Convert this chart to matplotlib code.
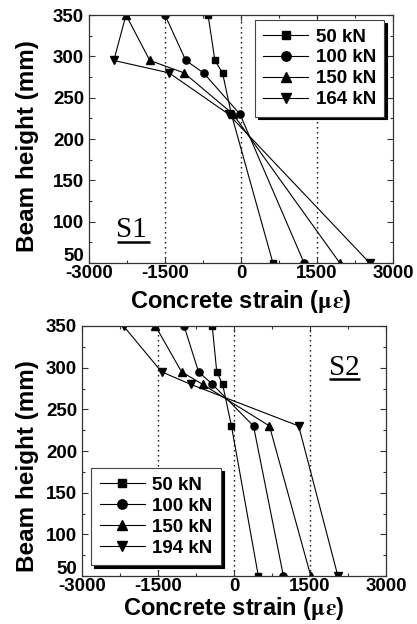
import matplotlib
matplotlib.use("Agg")
import matplotlib.pyplot as plt
from matplotlib.ticker import MultipleLocator
from matplotlib.transforms import ScaledTranslation

plt.rcParams['font.family'] = ['Liberation Sans', 'DejaVu Sans']
plt.rcParams['font.weight'] = 'bold'
plt.rcParams['mathtext.fontset'] = 'stix'
plt.rcParams['axes.unicode_minus'] = False

# ---- data ----
heights = [350, 295, 280, 230, 50]

s1_labels = ['50 kN', '100 kN', '150 kN', '164 kN']
s1_50 = [-650, -515, -365, -190, 630]
s1_100 = [-1500, -1090, -740, -20, 1245]
s1_150 = [-2270, -1800, -1125, -155, 1950]
s1_164 = [-2270, -2510, -1420, -245, 2540]

s2_labels = ['50 kN', '100 kN', '150 kN', '194 kN']
s2_50 = [-430, -340, -225, -50, 480]
s2_100 = [-985, -700, -425, 385, 975]
s2_150 = [-1550, -1035, -620, 700, 1515]
s2_194 = [-2180, -1430, -855, 1277, 2050]

x_ticks = [-3000, -1500, 0, 1500, 3000]
y_ticks = [50, 100, 150, 200, 250, 300, 350]

markers = ['s', 'o', '^', 'v']
msizes = [4.8, 5.2, 5.8, 5.8]

fig = plt.figure(figsize=(4.17, 6.24), dpi=100)
ax1 = fig.add_axes([89/417, 1-263/624, 304/417, 248/624])
ax2 = fig.add_axes([82/417, 1-576/624, 304/417, 250/624])


def style(ax):
    ax.set_xlim(-3000, 3000)
    ax.set_ylim(50, 350)
    ax.set_xticks(x_ticks)
    ax.set_yticks(y_ticks)
    ax.xaxis.set_minor_locator(MultipleLocator(750))
    ax.yaxis.set_minor_locator(MultipleLocator(25))
    ax.tick_params(which='both', direction='in', top=True, right=True,
                   width=0.8, color='#333333')
    ax.tick_params(which='major', length=4)
    ax.tick_params(which='minor', length=2.2)
    ax.tick_params(axis='x', pad=1.5, labelsize=13.5)
    ax.tick_params(axis='y', pad=3.5, labelsize=13.5)
    for lab in ax.get_xticklabels() + ax.get_yticklabels():
        lab.set_fontweight('bold')
    for sp in ax.spines.values():
        sp.set_linewidth(0.9)
        sp.set_color('#333333')
    for xv in x_ticks[1:-1]:
        ax.axvline(xv, color='black', lw=1.0, ls=(0, (1, 2.6)), zorder=0)
    ax.set_xlabel(r'Concrete strain ($\mathrm{\mu\varepsilon}$)', fontsize=17,
                  fontweight='bold')
    ax.set_ylabel('Beam height (mm)', fontsize=17.5, fontweight='bold')
    # lift the lowest y tick label a little, as in the reference
    lab0 = ax.yaxis.get_major_ticks()[0].label1
    lab0.set_transform(lab0.get_transform() +
                       ScaledTranslation(0, 6/72, fig.dpi_scale_trans))


def draw(ax, series, labels):
    for vals, lab, m, ms in zip(series, labels, markers, msizes):
        ax.plot(vals, heights, color='black', lw=0.8, marker=m, ms=ms,
                mfc='black', mec='black', label=lab)


style(ax1)
style(ax2)
draw(ax1, [s1_50, s1_100, s1_150, s1_164], s1_labels)
draw(ax2, [s2_50, s2_100, s2_150, s2_194], s2_labels)

ax1.xaxis.set_label_coords(0.5, -0.1)
ax1.yaxis.set_label_coords(-0.164, 0.47)
ax2.xaxis.set_label_coords(0.5, -0.076)
ax2.yaxis.set_label_coords(-0.141, 0.44)

leg_kw = dict(fontsize=13.5, frameon=True, fancybox=False, markerscale=1.3,
              handlelength=2.4, handletextpad=0.4, labelspacing=0.2,
              borderpad=0.45, borderaxespad=0.0,
              shadow={'color': 'black', 'alpha': 1.0})
l1 = ax1.legend(loc='upper right', bbox_to_anchor=(0.972, 0.98), **leg_kw)
l2 = ax2.legend(loc='lower left', bbox_to_anchor=(0.03, 0.044), **leg_kw)
for l in (l1, l2):
    l.get_frame().set_edgecolor('#444444')
    l.get_frame().set_linewidth(0.8)
    for t in l.get_texts():
        t.set_fontweight('bold')

# panel tags (underlined)
ax1.text(-2460, 81.5, 'S1', fontsize=21, family='Liberation Serif',
         fontweight='normal', va='baseline', ha='left')
ax1.plot([-2440, -1800], [75.2, 75.2], color='black', lw=1.8, solid_capstyle='butt')
ax2.text(1868, 291, 'S2', fontsize=21, family='Liberation Serif',
         fontweight='normal', va='baseline', ha='left')
ax2.plot([1868, 2484], [286.2, 286.2], color='black', lw=1.8, solid_capstyle='butt')

fig.savefig('out.png', dpi=100)
